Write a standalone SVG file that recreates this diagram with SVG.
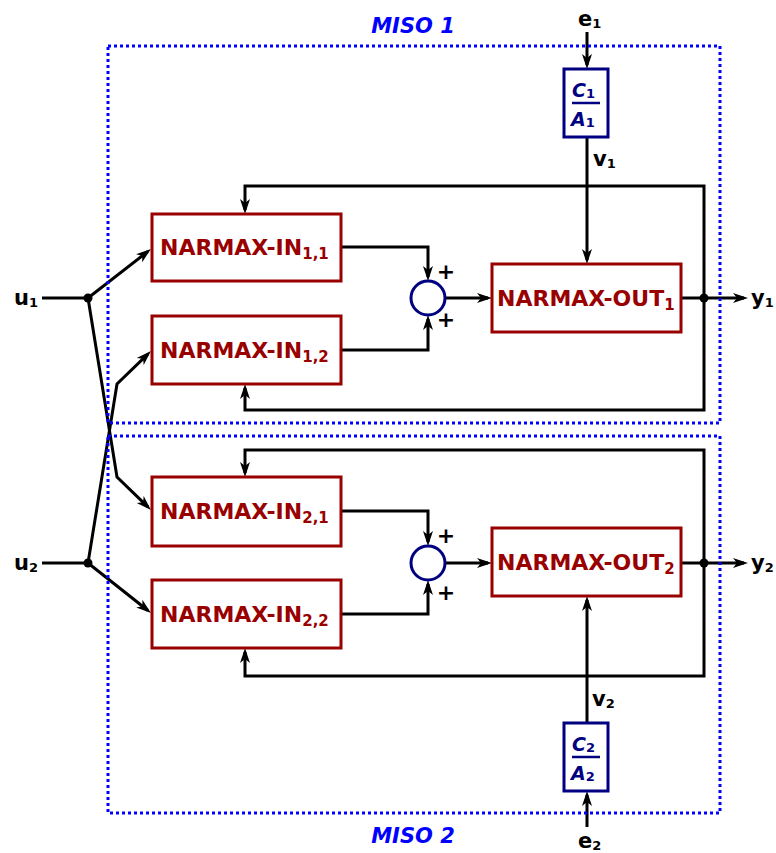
<svg xmlns="http://www.w3.org/2000/svg" width="776" height="853" viewBox="0 0 776 853">
<style>
.box{fill:#fff;stroke:#990000;stroke-width:3}
.nbox{fill:#fff;stroke:#000080;stroke-width:3}
.btxt{font-family:"DejaVu Sans",sans-serif;font-weight:bold;font-size:22px;fill:#990000}
.sub{font-size:15px}
.lbl{font-family:"DejaVu Sans",sans-serif;font-weight:bold;font-size:21px;fill:#000}
.lsub{font-size:13px}
.frac{font-family:"DejaVu Sans",sans-serif;font-weight:bold;font-style:italic;font-size:19px;fill:#000080}
.fsub{font-size:13px;font-style:normal}
.miso{font-family:"DejaVu Sans",sans-serif;font-weight:bold;font-style:italic;font-size:21px;fill:#0000ff}
.plus{font-family:"DejaVu Sans",sans-serif;font-weight:bold;font-size:22px;fill:#000}
.wire{fill:none;stroke:#000;stroke-width:3;stroke-linejoin:miter}
.arr{marker-end:url(#ah)}
.dot{fill:#000}
.sum{fill:#fff;stroke:#000080;stroke-width:3}
.frame{fill:none;stroke:#0000ff;stroke-width:3;stroke-dasharray:3 3}
</style>
<defs>
<marker id="ah" markerUnits="userSpaceOnUse" viewBox="-12 -7 18 14" refX="0" refY="0" markerWidth="18" markerHeight="14" orient="auto">
<path d="M-11,-5 L4,0 L-11,5 L-7,0 Z" fill="#000"/>
</marker>
</defs>

<g id="connectors">
<path class="wire" d="M42,298 H88"/>
<path class="wire" d="M42,563 H88"/>
<path class="wire arr" d="M88,298 L147.8,251.5"/>
<path class="wire arr" d="M88,298 L117,477 L148.1,507.2"/>
<path class="wire arr" d="M88,563 L117,384 L148.1,353.8"/>
<path class="wire arr" d="M88,563 L147.9,610.5"/>
<path class="wire arr" d="M341,247 H428 V277"/>
<path class="wire arr" d="M341,350 H428 V319"/>
<path class="wire arr" d="M445,298 H488"/>
<path class="wire arr" d="M681,298 H744"/>
<path class="wire arr" d="M704,298 V186 H245 V210"/>
<path class="wire arr" d="M704,298 V410 H245 V388"/>
<path class="wire arr" d="M587,32 V65"/>
<path class="wire arr" d="M587,137 V260"/>
<path class="wire arr" d="M341,511 H428 V542"/>
<path class="wire arr" d="M341,614 H428 V584"/>
<path class="wire arr" d="M445,563 H488"/>
<path class="wire arr" d="M681,563 H744"/>
<path class="wire arr" d="M704,563 V450 H245 V473"/>
<path class="wire arr" d="M704,563 V676 H245 V652"/>
<path class="wire arr" d="M587,723 V600"/>
<path class="wire arr" d="M587,827 V795"/>
<circle class="dot" cx="88" cy="298" r="4.5"/>
<circle class="dot" cx="88" cy="563" r="4.5"/>
<circle class="dot" cx="704" cy="298" r="4.5"/>
<circle class="dot" cx="704" cy="563" r="4.5"/>
</g>

<g id="in11"><rect class="box" x="152" y="214" width="189" height="67"/><text class="btxt" x="160" y="255">NARMAX-IN<tspan class="sub" dy="4">1,1</tspan></text></g>
<g id="in12"><rect class="box" x="152" y="316" width="189" height="68"/><text class="btxt" x="160" y="358">NARMAX-IN<tspan class="sub" dy="4">1,2</tspan></text></g>
<g id="in21"><rect class="box" x="152" y="477" width="189" height="69"/><text class="btxt" x="160" y="519">NARMAX-IN<tspan class="sub" dy="4">2,1</tspan></text></g>
<g id="in22"><rect class="box" x="152" y="580" width="189" height="68"/><text class="btxt" x="160" y="622">NARMAX-IN<tspan class="sub" dy="4">2,2</tspan></text></g>
<g id="out1"><rect class="box" x="492" y="264" width="189" height="68"/><text class="btxt" x="497" y="306">NARMAX-OUT<tspan class="sub" dy="4">1</tspan></text></g>
<g id="out2"><rect class="box" x="492" y="528" width="189" height="68"/><text class="btxt" x="497" y="570">NARMAX-OUT<tspan class="sub" dy="4">2</tspan></text></g>

<g id="sum1"><circle class="sum" cx="428" cy="298" r="17"/><text class="plus" x="446" y="279" text-anchor="middle">+</text><text class="plus" x="446" y="327" text-anchor="middle">+</text></g>
<g id="sum2"><circle class="sum" cx="428" cy="563" r="17"/><text class="plus" x="446" y="543" text-anchor="middle">+</text><text class="plus" x="446" y="600" text-anchor="middle">+</text></g>

<g id="noise1"><rect class="nbox" x="564" y="69" width="44" height="68"/><text class="frac" x="572" y="97">C<tspan class="fsub" dy="1">1</tspan></text><line x1="572" y1="103" x2="600" y2="103" stroke="#000080" stroke-width="2.5"/><text class="frac" x="571" y="126">A<tspan class="fsub" dy="1">1</tspan></text></g>
<g id="noise2"><rect class="nbox" x="564" y="723" width="44" height="68"/><text class="frac" x="572" y="751">C<tspan class="fsub" dy="1">2</tspan></text><line x1="572" y1="757" x2="600" y2="757" stroke="#000080" stroke-width="2.5"/><text class="frac" x="571" y="780">A<tspan class="fsub" dy="1">2</tspan></text></g>

<g id="labels">
<text class="lbl" x="14" y="305">u<tspan class="lsub" dy="2">1</tspan></text>
<text class="lbl" x="14" y="570">u<tspan class="lsub" dy="2">2</tspan></text>
<text class="lbl" x="751" y="305">y<tspan class="lsub" dy="2">1</tspan></text>
<text class="lbl" x="751" y="570">y<tspan class="lsub" dy="2">2</tspan></text>
<text class="lbl" x="578" y="26">e<tspan class="lsub" dy="2">1</tspan></text>
<text class="lbl" x="578" y="848">e<tspan class="lsub" dy="2">2</tspan></text>
<text class="lbl" x="593" y="166">v<tspan class="lsub" dy="2">1</tspan></text>
<text class="lbl" x="592" y="706">v<tspan class="lsub" dy="2">2</tspan></text>
</g>

<g id="miso1"><rect class="frame" x="108" y="46" width="612" height="377"/><text class="miso" x="413" y="33" text-anchor="middle">MISO 1</text></g>
<g id="miso2"><rect class="frame" x="108" y="436" width="612" height="377"/><text class="miso" x="413" y="843" text-anchor="middle">MISO 2</text></g>
</svg>
